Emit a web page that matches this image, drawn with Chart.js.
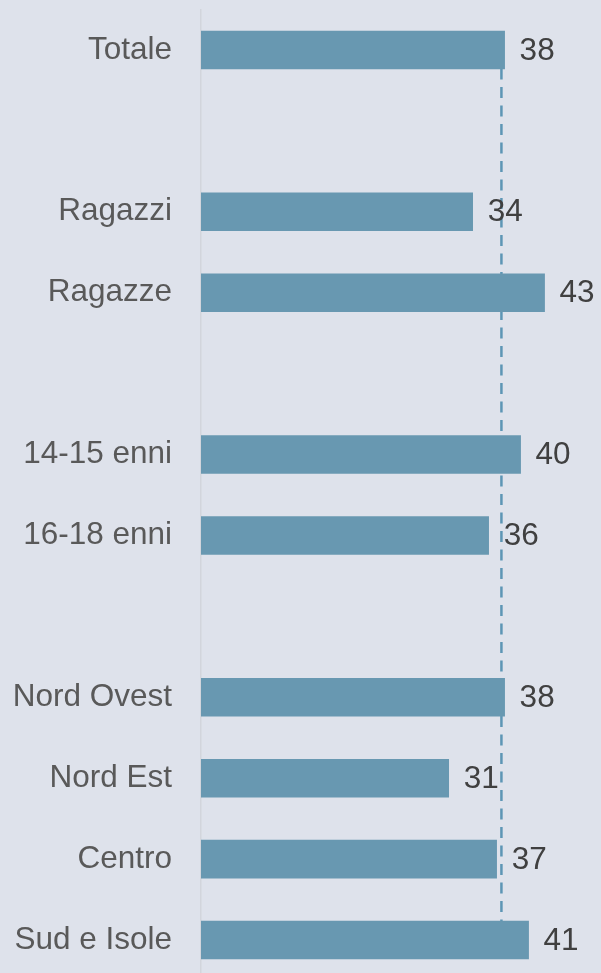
<!DOCTYPE html>
<html>
<head>
<meta charset="utf-8">
<script src="https://cdn.jsdelivr.net/npm/chart.js@4/dist/chart.umd.min.js"></script>
<style>
  html, body { margin: 0; padding: 0; background: #dee2eb; overflow: hidden; }
  #wrap { position: absolute; left: 0; top: 0; width: 601px; height: 981px; }
</style>
</head>
<body>
<div id="wrap"><canvas id="c" width="601" height="981"></canvas></div>
<script>
const categories = ['Totale', '', 'Ragazzi', 'Ragazze', '', '14-15 enni', '16-18 enni', '', 'Nord Ovest', 'Nord Est', 'Centro', 'Sud e Isole'];
const values = [38, null, 34, 43, null, 40, 36, null, 38, 31, 37, 41];
const averageValue = 37.6;
const xMax = 50;

const FONT = "'Liberation Sans', Arial, sans-serif";
const FONT_SIZE = 31.5;

const valueLabels = {
  id: 'valueLabels',
  afterDatasetsDraw(chart) {
    const ctx = chart.ctx;
    const meta = chart.getDatasetMeta(0);
    ctx.save();
    ctx.font = FONT_SIZE + 'px ' + FONT;
    ctx.fillStyle = '#404040';
    ctx.textAlign = 'left';
    ctx.textBaseline = 'middle';
    meta.data.forEach((bar, i) => {
      if (values[i] === null) return;
      ctx.fillText(String(values[i]), bar.x + 15, bar.y + 1);
    });
    ctx.restore();
  }
};

new Chart(document.getElementById('c'), {
  type: 'bar',
  data: {
    labels: categories,
    datasets: [
      {
        type: 'bar',
        data: values,
        backgroundColor: '#6898b1',
        barThickness: 38,
        order: 1
      },
      {
        type: 'line',
        data: categories.map(() => averageValue),
        borderColor: '#5d96b5',
        borderWidth: 2.5,
        borderDash: [11, 7.5],
        pointRadius: 0,
        fill: false,
        order: 2
      }
    ]
  },
  options: {
    indexAxis: 'y',
    responsive: false,
    animation: false,
    devicePixelRatio: 1,
    layout: { padding: { top: 9.5, right: 0.5, bottom: 0.5, left: 0 } },
    plugins: { legend: { display: false }, tooltip: { enabled: false } },
    scales: {
      x: {
        display: false,
        min: 0,
        max: xMax
      },
      y: {
        afterFit(scale) {
          scale.width = 201;
          scale.paddingTop = 0;
          scale.paddingBottom = 0;
        },
        grid: { display: false, drawTicks: false },
        border: { display: true, color: '#d2d5dc', width: 1.5 },
        ticks: {
          padding: 29,
          color: '#595959',
          font: { family: FONT, size: FONT_SIZE },
          autoSkip: false
        }
      }
    }
  },
  plugins: [valueLabels]
});
</script>
</body>
</html>
